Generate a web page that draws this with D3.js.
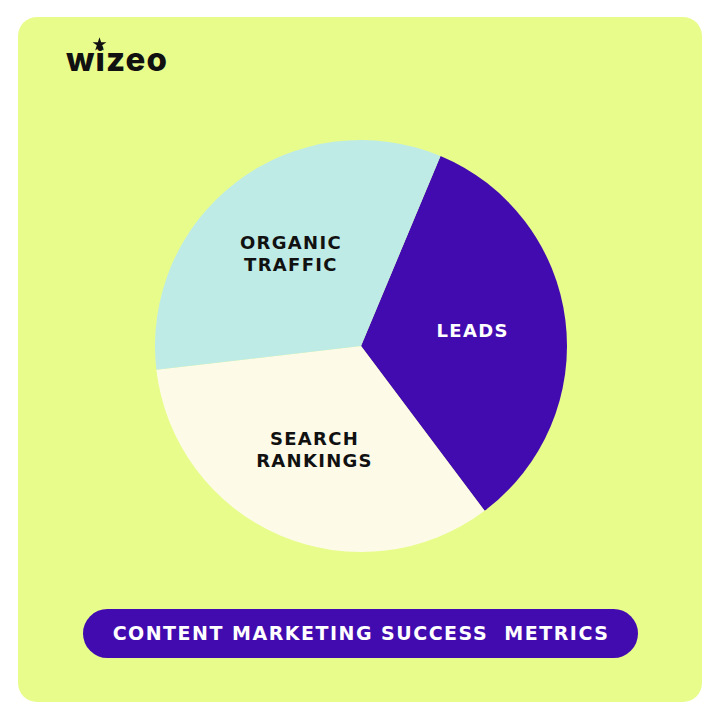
<!DOCTYPE html>
<html><head><meta charset="utf-8">
<script src="https://cdn.jsdelivr.net/npm/d3@7"></script>
<style>html,body{margin:0;padding:0;background:#fff;}svg{display:block;}</style>
</head><body>
<svg id="c" width="721" height="720"></svg>
<script>
const categories = ["LEADS", "SEARCH RANKINGS", "ORGANIC TRAFFIC"];
const labelLines = [["LEADS"], ["SEARCH", "RANKINGS"], ["ORGANIC", "TRAFFIC"]];
const values = [33.45, 33.4, 33.15];
const colors = ["#420BB0", "#FDFBE8", "#BFEBE6"];
const textColors = ["#ffffff", "#111111", "#111111"];
const title = "CONTENT MARKETING SUCCESS\u00a0 METRICS";
const brand = "wizeo";

const FONT = "'DejaVu Sans', Inter, sans-serif";
const svg = d3.select("#c");
svg.append("rect").attr("x", 18).attr("y", 17).attr("width", 684).attr("height", 685)
  .attr("rx", 19).attr("fill", "#E8FC8C");

// logo
const logo = svg.append("g");
logo.append("text").attr("x", 66).attr("y", 71).text(brand)
  .attr("font-family", "Inter, sans-serif").attr("font-weight", 800)
  .attr("font-size", 33).attr("fill", "#111").attr("letter-spacing", 1.1);
const star = d3.symbol().type(d3.symbolStar).size(60);
logo.append("path").attr("d", star()).attr("transform", "translate(99.5,44.5)").attr("fill", "#111");

const cx = 361, cy = 346, R = 206;
const a0 = 22.7 * Math.PI / 180;
const pie = d3.pie().sort(null).value(d => d).startAngle(a0).endAngle(a0 + 2 * Math.PI);
const arcs = pie(values);
const arc = d3.arc().innerRadius(0).outerRadius(R);
const labelArc = d3.arc().innerRadius(114).outerRadius(114);
const g = svg.append("g").attr("transform", `translate(${cx},${cy})`);
g.selectAll("path").data(arcs).join("path").attr("d", arc).attr("fill", (d, i) => colors[i]);

const lab = g.selectAll("text").data(arcs).join("text")
  .attr("transform", d => { const c = labelArc.centroid(d); return `translate(${c[0] - 1.5},${c[1] - 1})`; })
  .attr("text-anchor", "middle")
  .attr("font-family", FONT).attr("font-weight", 700)
  .attr("font-size", 18).attr("letter-spacing", 1.3)
  .attr("fill", (d, i) => textColors[i]);
lab.each(function (d, i) {
  const lines = labelLines[i];
  const n = lines.length;
  d3.select(this).selectAll("tspan").data(lines).join("tspan")
    .attr("x", 0).attr("y", (l, k) => (k - (n - 1) / 2) * 22 + 6.5).text(l => l);
});

// title pill
svg.append("rect").attr("x", 83).attr("y", 609).attr("width", 555).attr("height", 49)
  .attr("rx", 24.5).attr("fill", "#420BB0");
svg.append("text").attr("x", 361).attr("y", 640).attr("text-anchor", "middle")
  .attr("font-family", FONT).attr("font-weight", 700)
  .attr("font-size", 19).attr("letter-spacing", 1.5).attr("fill", "#fff").text(title);
</script>
</body></html>
